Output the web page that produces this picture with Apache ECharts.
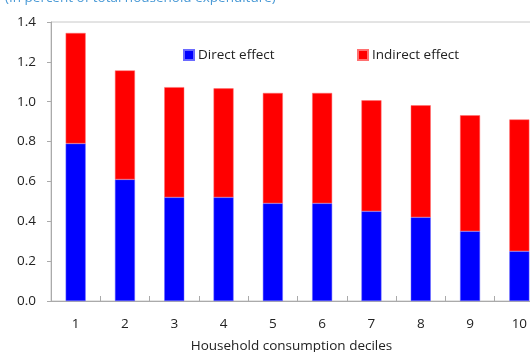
<!DOCTYPE html>
<html>
<head>
<meta charset="utf-8">
<script src="https://cdn.jsdelivr.net/npm/echarts@6/dist/echarts.min.js"></script>
<style>html,body{margin:0;padding:0;background:#fff;}#c{width:530px;height:352px;}</style>
</head>
<body>
<div id="c"></div>
<script>
const categories = ['1','2','3','4','5','6','7','8','9','10'];
const directEffect = [0.79, 0.61, 0.52, 0.52, 0.49, 0.49, 0.45, 0.42, 0.35, 0.25];
const totalEffect = [1.345, 1.157, 1.073, 1.067, 1.044, 1.044, 1.007, 0.982, 0.932, 0.911];
const indirectEffect = totalEffect.map((t, i) => +(t - directEffect[i]).toFixed(3));
const yTicks = { min: 0, max: 1.4, interval: 0.2 };

const FONT = '"Open Sans", "Noto Sans", sans-serif';
const chart = echarts.init(document.getElementById('c'), null, { renderer: 'canvas' });
chart.setOption({
  animation: false,
  backgroundColor: '#fff',
  title: {
    text: '(In percent of total household expenditure)',
    left: 0, top: -14,
    textStyle: { color: '#4a9ad6', fontSize: 13.5, fontWeight: 'normal', fontFamily: FONT }
  },
  legend: [
    { data: ['Direct effect'], icon: 'rect', left: 178, top: 43, itemWidth: 10, itemHeight: 10, itemGap: 4,
      textStyle: { fontSize: 13.5, color: '#222', fontFamily: FONT, padding: [0,0,0,-1] } },
    { data: ['Indirect effect'], icon: 'rect', left: 352, top: 43, itemWidth: 10, itemHeight: 10, itemGap: 4,
      textStyle: { fontSize: 13.5, color: '#222', fontFamily: FONT, padding: [0,0,0,-1] } }
  ],
  grid: { left: 51, top: 22, width: 493, height: 279, containLabel: false, outerBoundsMode: 'none',
          show: true, borderColor: '#c8c8c8', borderWidth: 1 },
  xAxis: {
    type: 'category', data: categories,
    name: 'Household consumption deciles', nameLocation: 'middle', nameGap: 38,
    nameTextStyle: { fontSize: 13.5, color: '#222', fontFamily: FONT, padding: [0, 12, 0, 0] },
    axisLine: { lineStyle: { color: '#aaa', width: 1 } },
    axisTick: { show: true, inside: true, length: 5, lineStyle: { color: '#aaa' } },
    axisLabel: { fontSize: 13.5, color: '#222', fontFamily: FONT, margin: 16 }
  },
  yAxis: {
    type: 'value', min: yTicks.min, max: yTicks.max, interval: yTicks.interval,
    axisLine: { show: true, lineStyle: { color: '#aaa', width: 1 } },
    axisTick: { show: true, inside: false, length: 4, lineStyle: { color: '#aaa' } },
    splitLine: { show: false },
    axisLabel: { fontSize: 13.5, color: '#222', fontFamily: FONT, margin: 15, formatter: v => v.toFixed(1) }
  },
  series: [
    { name: 'Direct effect', type: 'bar', stack: 'a', data: directEffect, barWidth: 20,
      itemStyle: { color: '#0000ff', borderColor: '#6a6aff', borderWidth: 0.5 } },
    { name: 'Indirect effect', type: 'bar', stack: 'a', data: indirectEffect, barWidth: 20,
      itemStyle: { color: '#ff0000', borderColor: '#ff7070', borderWidth: 0.5 } }
  ]
});
</script>
</body>
</html>
